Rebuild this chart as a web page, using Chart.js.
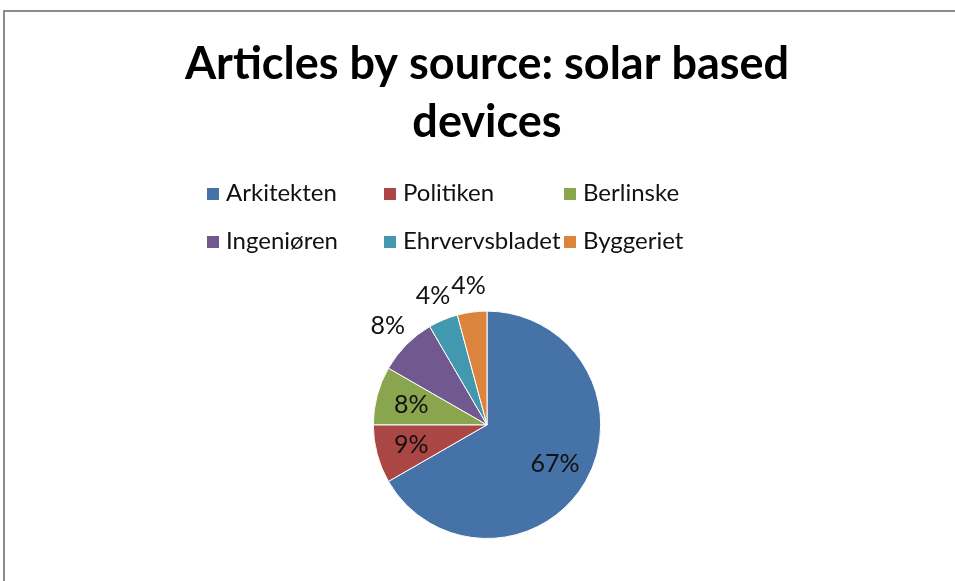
<!DOCTYPE html>
<html>
<head>
<meta charset="utf-8">
<script src="https://cdn.jsdelivr.net/npm/chart.js@4/dist/chart.umd.min.js"></script>
<style>
  html, body { margin: 0; padding: 0; background: #fff; overflow: hidden; }
  #box {
    position: absolute; left: 3px; top: 10px;
    width: 964px; height: 600px;
    border: 2px solid #8c8c8c;
  }
  #legend {
    position: absolute; left: 0; top: 0;
    font-family: Lato, "Noto Sans", sans-serif; font-size: 24px; color: #111;
  }
  .item { position: absolute; white-space: nowrap; line-height: 30px; }
  .sw { display: inline-block; width: 12px; height: 12px; margin-right: 7px; vertical-align: 1px; }
</style>
</head>
<body>
<div id="box"><canvas id="pie"></canvas></div>
<div id="legend"></div>
<script>
const sources = ["Arkitekten", "Politiken", "Berlinske", "Ingeniøren", "Ehrvervsbladet", "Byggeriet"];
const shares = [66.7, 8.3, 8.3, 8.3, 4.2, 4.2];
const shownLabels = ["67%", "9%", "8%", "8%", "4%", "4%"];
const colors = ["#4572A7", "#AA4643", "#89A54E", "#71588F", "#4198AF", "#DB843D"];
const placement = ["in", "in", "in", "out", "out", "out"];

// legende som gitter (3 kolonner)
const cols = [207, 384, 564];
const rows = [192, 240];
const legend = document.getElementById("legend");
sources.forEach((s, i) => {
  const el = document.createElement("div");
  el.className = "item";
  el.style.left = cols[i % 3] + "px";
  el.style.top = (rows[Math.floor(i / 3)] - 15) + "px";
  el.innerHTML = `<span class="sw" style="background:${colors[i]}"></span>${s}`;
  legend.appendChild(el);
});

// procent-etiketter
const pctLabels = {
  id: "pctLabels",
  afterDatasetsDraw(chart) {
    const ctx = chart.ctx;
    const arcs = chart.getDatasetMeta(0).data;
    ctx.save();
    ctx.font = "25px Lato, 'Noto Sans', sans-serif";
    ctx.fillStyle = "#111";
    ctx.textAlign = "center";
    ctx.textBaseline = "middle";
    arcs.forEach((arc, i) => {
      const { x, y, startAngle, endAngle, outerRadius } = arc.getProps(["x", "y", "startAngle", "endAngle", "outerRadius"], true);
      const mid = (startAngle + endAngle) / 2;
      const f = placement[i] === "in" ? 0.69 : 1.23;
      ctx.fillText(shownLabels[i], x + Math.cos(mid) * outerRadius * f, y + Math.sin(mid) * outerRadius * f);
    });
    ctx.restore();
  }
};

new Chart(document.getElementById("pie"), {
  type: "pie",
  data: {
    labels: sources,
    datasets: [{
      data: shares,
      backgroundColor: colors,
      borderColor: "#ffffff",
      borderWidth: 1
    }]
  },
  options: {
    responsive: true,
    maintainAspectRatio: false,
    animation: false,
    layout: { padding: { bottom: 73 } },
    plugins: {
      legend: { display: false },
      tooltip: { enabled: false },
      title: {
        display: true,
        text: ["Articles by source: solar based", "devices"],
        color: "#000",
        font: { family: "Lato, 'Noto Sans', sans-serif", size: 45, weight: "bold", lineHeight: 1.3 },
        padding: { top: 23, bottom: 158.6 }
      }
    }
  },
  plugins: [pctLabels]
});
</script>
</body>
</html>
